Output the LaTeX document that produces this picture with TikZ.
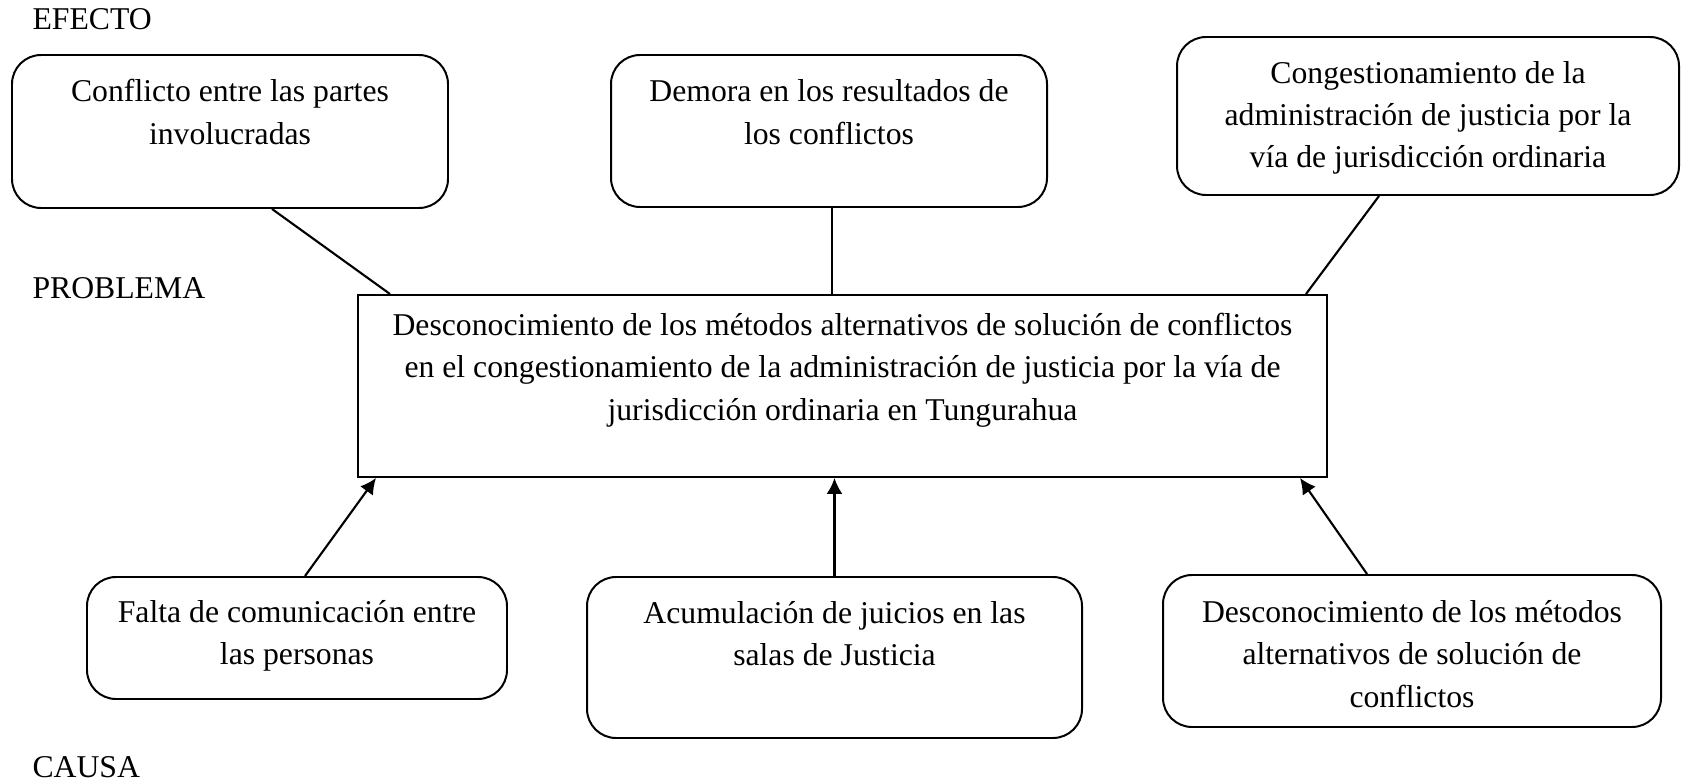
\documentclass[tikz,border=0pt]{standalone}
\usepackage{fontspec}
\setmainfont{Liberation Serif}
\usepackage{tikz}
\usetikzlibrary{arrows.meta,calc}

\newdimen\pxu \pxu=0.3785pt
% width, height, first baseline, text
\newcommand{\boxtext}[4]{\parbox[c][#2\pxu][t]{#1\pxu}{\centering\setlength{\baselineskip}{42.5\pxu}\rule{0pt}{#3\pxu}#4\par}}

\begin{document}
\begin{tikzpicture}[x=0.3785pt,y=-0.3785pt]
	 \tikzstyle{causebox}=[draw,line width=0.75pt,rounded corners=11pt,inner sep=0pt,font=\fontsize{12}{14}\selectfont]
	 \tikzstyle{problembox}=[draw,line width=0.75pt,inner sep=0pt,font=\fontsize{12}{14}\selectfont]
	 \tikzstyle{tag}=[anchor=base west,inner sep=0pt,font=\fontsize{12}{14}\selectfont]
	 \tikzstyle{link}=[draw,line width=0.8pt,-]
	 \tikzstyle{arrow}=[draw,line width=0.8pt,-{Latex[length=6pt,width=6pt]}]

	\useasboundingbox (0,0) rectangle (1681,784);

	\node[tag] (lblefecto) at (32,30) {EFECTO};
	 \node[tag] (lblproblema) at (32,298) {PROBLEMA};
	 \node[tag] (lblcausa) at (32,777) {CAUSA};

	\node[causebox] (efecto1) at (230,131.5) {\boxtext{436}{153}{47}{Conflicto entre las partes\\ involucradas}};
	 \node[causebox] (efecto2) at (829,131) {\boxtext{436}{152}{47}{Demora en los resultados de\\ los conflictos}};
	 \node[causebox] (efecto3) at (1428,116) {\boxtext{502}{158}{46}{Congestionamiento de la\\ administración de justicia por la\\ vía de jurisdicción ordinaria}};

	\node[problembox] (problema) at (842.5,386) {\boxtext{969}{182}{40}{Desconocimiento de los métodos alternativos de solución de conflictos\\ en el congestionamiento de la administración de justicia por la vía de\\ jurisdicción ordinaria en Tungurahua}};

	\node[causebox] (causa1) at (297,638) {\boxtext{420}{122}{45}{Falta de comunicación entre\\ las personas}};
	 \node[causebox] (causa2) at (834.5,657.5) {\boxtext{495}{161}{46}{Acumulación de juicios en las\\ salas de Justicia}};
	 \node[causebox] (causa3) at (1412,651) {\boxtext{498}{152}{47}{Desconocimiento de los métodos\\ alternativos de solución de\\ conflictos}};

	\draw[link] ($(efecto1.south west)+(261,0)$) -- ($(problema.north west)+(33,0)$);
	 \draw[link] ($(efecto2.south)+(3,0)$) -- ($(problema.north)+(-10.5,0)$);
	 \draw[link] ($(efecto3.south west)+(203,0)$) -- ($(problema.north east)+(-22,0)$);

	\draw[arrow] ($(causa1.north west)+(219,0)$) -- ($(problema.south west)+(19,0)$);
	 \draw[arrow] (causa2.north) -- (causa2.north |- problema.south);
	 \draw[arrow] ($(causa3.north west)+(205,0)$) -- ($(problema.south east)+(-28,0)$);
 \end{tikzpicture}
\end{document}
